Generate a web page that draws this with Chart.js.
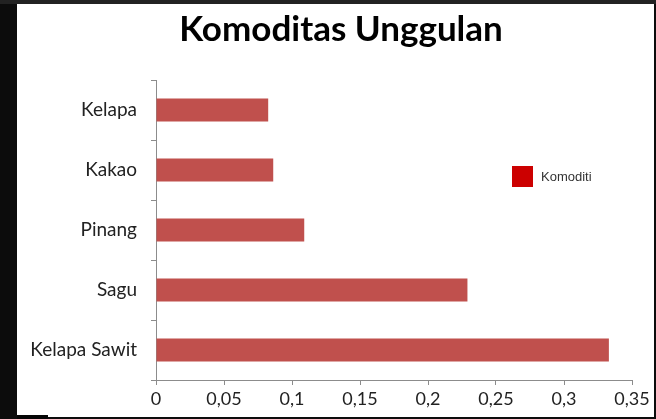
<!DOCTYPE html>
<html>
<head>
<meta charset="utf-8">
<script src="https://cdn.jsdelivr.net/npm/chart.js@4"></script>
<style>
  html, body { margin: 0; padding: 0; }
  body { width: 656px; height: 419px; background: #0c0c0c; position: relative; overflow: hidden; }
  #topband { position: absolute; left: 0; top: 0; width: 656px; height: 4px; background: #222; }
  #panel { position: absolute; left: 17px; top: 4px; width: 637px; height: 413px; background: #fff; }
  #corner { position: absolute; left: 17px; top: 415px; width: 31px; height: 4px; background: #050505; }
  #title { position: absolute; left: 141px; top: 6px; width: 400px; text-align: center;
           font-family: Lato, sans-serif; font-weight: bold; font-size: 35px; line-height: 42px; color: #000; }
  #legend { position: absolute; left: 512px; top: 166px; display: flex; align-items: center;
            font-family: "Liberation Sans", Arial, sans-serif; font-size: 13px; color: #333; }
  #legend .box { width: 21px; height: 21px; background: #cc0000; margin-right: 8px; }
</style>
</head>
<body>
<div id="topband"></div>
<div id="panel"><canvas id="chart" width="637" height="413"></canvas></div>
<div id="corner"></div>
<div id="title">Komoditas Unggulan</div>
<div id="legend"><div class="box"></div><span>Komoditi</span></div>
<script>
const categories = ["Kelapa", "Kakao", "Pinang", "Sagu", "Kelapa Sawit"];
const values = [0.0825, 0.0862, 0.109, 0.229, 0.333];
const seriesName = "Komoditi";

const AXIS = "#8c8c8c";
const TEXT = "#222";

new Chart(document.getElementById("chart"), {
  type: "bar",
  data: {
    labels: categories,
    datasets: [{
      label: seriesName,
      data: values,
      backgroundColor: "#c0504d",
      barPercentage: 0.38,
      categoryPercentage: 1
    }]
  },
  options: {
    indexAxis: "y",
    animation: false,
    responsive: false,
    layout: { padding: { left: 0, right: 22, top: 76, bottom: 0 } },
    scales: {
      x: {
        min: 0,
        max: 0.35,
        ticks: {
          stepSize: 0.05,
          color: TEXT,
          padding: 3,
          font: { family: "Lato", size: 18 },
          callback: (v) => String(Number(v.toFixed(2))).replace(".", ",")
        },
        grid: { drawOnChartArea: false, color: AXIS, tickLength: 5 },
        border: { color: AXIS },
        afterFit: (s) => { s.height = 37; }
      },
      y: {
        ticks: {
          color: TEXT,
          padding: 14,
          font: { family: "Lato", size: 19 }
        },
        grid: { drawOnChartArea: false, color: AXIS, tickLength: 5 },
        border: { color: AXIS },
        afterFit: (s) => { s.width = 139; }
      }
    },
    plugins: {
      legend: { display: false },
      tooltip: { enabled: false },
      title: { display: false }
    }
  }
});
</script>
</body>
</html>
